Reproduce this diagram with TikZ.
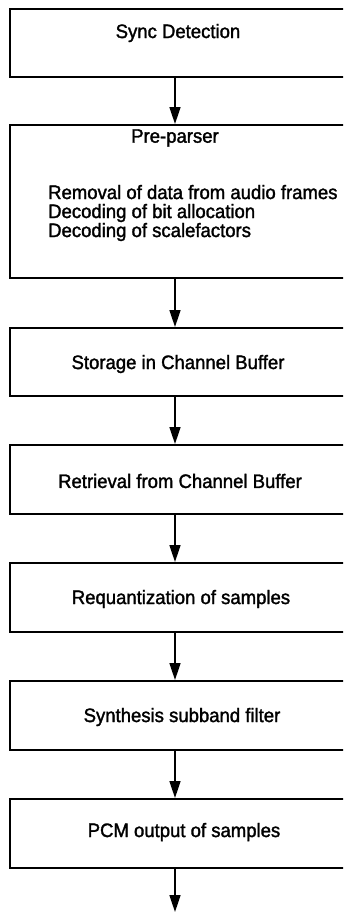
\documentclass[tikz,border=0pt]{standalone}
\usepackage{fontspec}
\setmainfont[FakeBold=1.6,FakeStretch=0.95]{Liberation Sans}
\usetikzlibrary{arrows.meta}
\begin{document}
\begin{tikzpicture}[x=1pt,y=-1pt,
  box/.style={draw,line width=1.7pt,minimum width=345pt,anchor=north west,inner sep=0pt},
  lbl/.style={font=\fontsize{19.5}{19}\selectfont,inner sep=0pt},
  flow/.style={line width=1.7pt,-{Triangle[length=17pt,width=11pt]}}]
\useasboundingbox (0,0) rectangle (343,913);
\clip (0,0) rectangle (343,913);
\coordinate (ax) at (175,0);
\node[box,minimum height=68pt] (b1) at (9,8) {};
\node[box,minimum height=153pt] (b2) at (9,124) {};
\node[box,minimum height=68pt] (b3) at (9,327) {};
\node[box,minimum height=69pt] (b4) at (9,444) {};
\node[box,minimum height=69pt] (b5) at (9,562) {};
\node[box,minimum height=69pt] (b6) at (9,680) {};
\node[box,minimum height=69pt] (b7) at (9,798) {};
\coordinate (out) at (175,912);
\node[lbl] (t1) at (178,33) {Sync Detection};
\node[lbl] (t2) at (175,138) {Pre-parser};
\node[lbl,align=left,anchor=west] (t2b) at (48,213) {Removal of data from audio frames\\Decoding of bit allocation\\Decoding of scalefactors};
\node[lbl] (t3) at (178,364) {Storage in Channel Buffer};
\node[lbl] (t4) at (180,481) {Retrieval from Channel Buffer};
\node[lbl] (t5) at (181,599) {Requantization of samples};
\node[lbl] (t6) at (182,717) {Synthesis subband filter};
\node[lbl] (t7) at (184,832) {PCM output of samples};
\draw[flow] (b1.south -| ax) -- (b2.north -| ax);
\draw[flow] (b2.south -| ax) -- (b3.north -| ax);
\draw[flow] (b3.south -| ax) -- (b4.north -| ax);
\draw[flow] (b4.south -| ax) -- (b5.north -| ax);
\draw[flow] (b5.south -| ax) -- (b6.north -| ax);
\draw[flow] (b6.south -| ax) -- (b7.north -| ax);
\draw[flow] (b7.south -| ax) -- (out);
\end{tikzpicture}
\end{document}
